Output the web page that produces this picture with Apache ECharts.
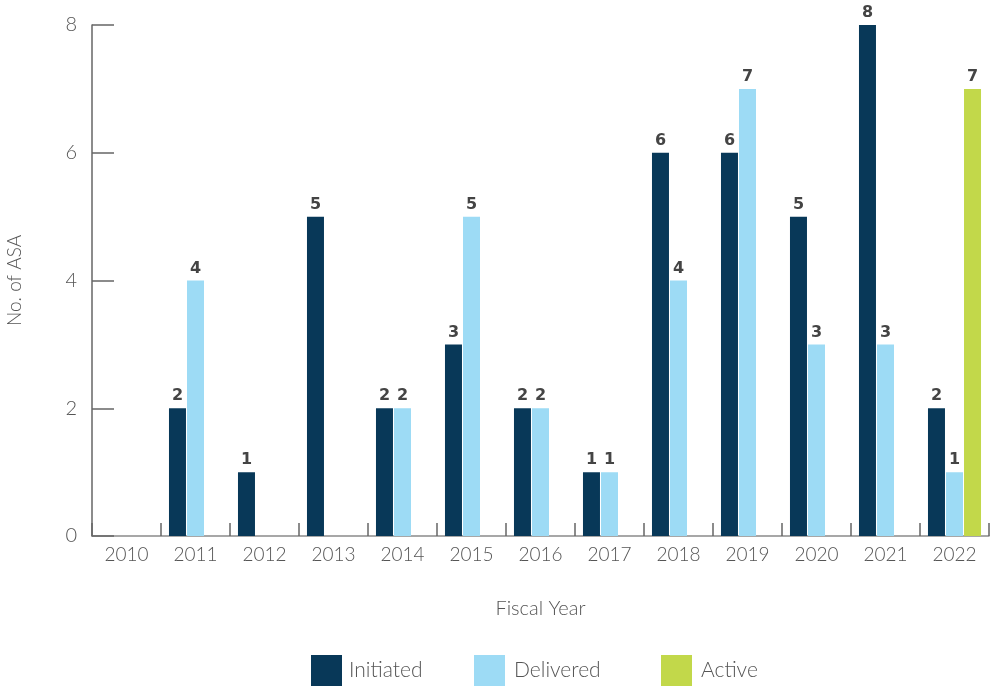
<!DOCTYPE html>
<html><head><meta charset="utf-8">
<script src="https://cdn.jsdelivr.net/npm/echarts@6/dist/echarts.min.js"></script>
<style>html,body{margin:0;padding:0;background:#fff}#c{width:991px;height:690px}</style>
</head><body><div id="c"></div>
<script>
const categories = ['2010','2011','2012','2013','2014','2015','2016','2017','2018','2019','2020','2021','2022'];
const initiated = [null,2,1,5,2,3,2,1,6,6,5,8,2];
const delivered = [null,4,null,null,2,5,2,1,4,7,3,3,1];
const active = [null,null,null,null,null,null,null,null,null,null,null,null,7];
const yTicks = {min:0, max:8, interval:2};

const colors = {Initiated:'#083858', Delivered:'#9ddbf5', Active:'#c2d84a'};
const fontFam = 'Lato, "Open Sans", sans-serif';
const lbl = {show:true, position:'top', distance:4, color:'#444', fontFamily:'"DejaVu Sans", sans-serif', fontWeight:'bold', fontSize:16};
function ser(name, data){
  return {name, type:'bar', data, barWidth:17, barGap:'6%', barCategoryGap:'23%',
    itemStyle:{color:colors[name]}, label:lbl};
}
function leg(name, left, pad){
  return {data:[name], left, top:655, padding:0, itemWidth:31, itemHeight:31, itemGap:0,
    icon:'rect', textStyle:{fontSize:21, color:'#555', fontFamily:fontFam, fontWeight:300, padding:[pad,0,0,pad+1]}};
}
const chart = echarts.init(document.getElementById('c'));
chart.setOption({
  animation:false,
  grid:{left:92, right:2, top:25, bottom:154, containLabel:false, outerBoundsMode:'none'},
  legend:[leg('Initiated',311,1), leg('Delivered',474,3), leg('Active',661,3)],
  xAxis:{type:'category', data:categories, name:'Fiscal Year', nameLocation:'middle', nameGap:63,
    nameTextStyle:{fontSize:20, color:'#555', fontFamily:fontFam, fontWeight:300},
    axisLine:{lineStyle:{color:'#8a8a8a', width:1.5}},
    axisTick:{show:true, inside:true, length:13, lineStyle:{color:'#666', width:1.5}},
    axisLabel:{fontSize:19, color:'#555', fontFamily:fontFam, fontWeight:300, margin:9}},
  yAxis:{type:'value', min:yTicks.min, max:yTicks.max, interval:yTicks.interval,
    name:'No. of ASA', nameLocation:'middle', nameGap:68, nameRotate:90,
    nameTextStyle:{fontSize:19, color:'#555', fontFamily:fontFam, fontWeight:300},
    axisLine:{show:true, lineStyle:{color:'#666', width:1.5}},
    axisTick:{show:true, inside:true, length:22, lineStyle:{color:'#666', width:1.5}},
    splitLine:{show:false},
    axisLabel:{fontSize:20, color:'#555', fontFamily:fontFam, fontWeight:300, margin:15}},
  series:[ser('Initiated',initiated), ser('Delivered',delivered), ser('Active',active)]
});
</script></body></html>
